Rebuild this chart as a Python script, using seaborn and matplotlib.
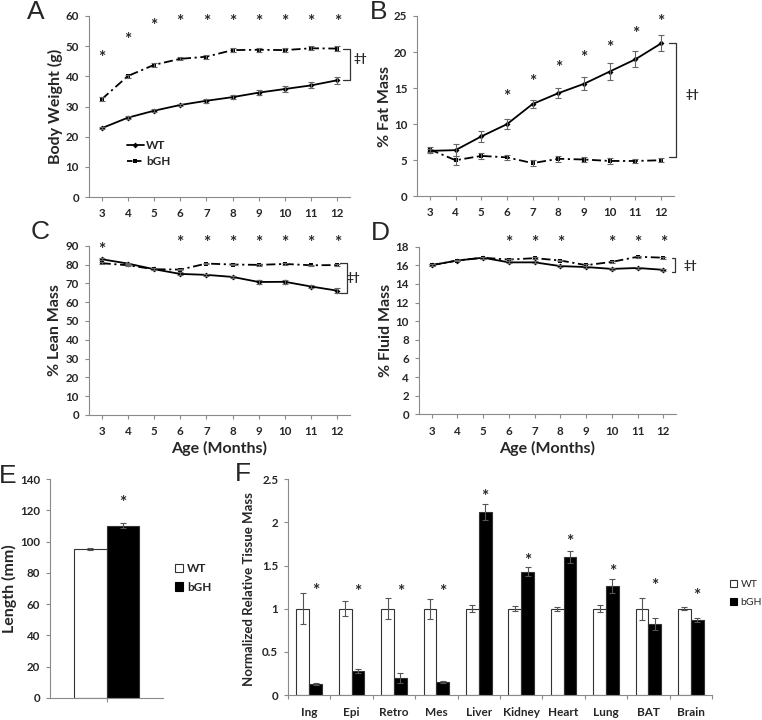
import numpy as np
import pandas as pd
import seaborn as sns
import matplotlib.pyplot as plt
from matplotlib.lines import Line2D
from matplotlib.patches import Patch

# ---- data ----
months = [3, 4, 5, 6, 7, 8, 9, 10, 11, 12]

bw_wt = [22.8, 26.3, 28.6, 30.5, 31.9, 33.1, 34.6, 35.8, 37.0, 38.7]
bw_wt_err = [0.4, 0.4, 0.5, 0.4, 0.6, 0.6, 0.8, 0.9, 1.0, 1.2]
bw_bgh = [32.4, 40.1, 43.8, 45.8, 46.5, 48.7, 48.8, 48.7, 49.3, 49.2]
bw_bgh_err = [0.6, 0.5, 0.6, 0.5, 0.6, 0.7, 0.6, 0.6, 0.6, 0.7]
bw_star_x = [3, 4, 5, 6, 7, 8, 9, 10, 11, 12]
bw_star_y = [46.2, 52.2, 56.7, 58.0, 58.0, 58.0, 58.0, 58.0, 58.0, 58.0]

fat_wt = [6.3, 6.4, 8.3, 10.0, 12.8, 14.3, 15.6, 17.3, 19.0, 21.2]
fat_wt_err = [0.3, 0.8, 0.8, 0.7, 0.6, 0.7, 0.9, 1.2, 1.1, 1.1]
fat_bgh = [6.5, 5.0, 5.6, 5.4, 4.6, 5.2, 5.1, 4.9, 4.9, 5.0]
fat_bgh_err = [0.4, 0.6, 0.4, 0.3, 0.4, 0.4, 0.4, 0.4, 0.3, 0.3]
fat_star_x = [6, 7, 8, 9, 10, 11, 12]
fat_star_y = [13.7, 15.8, 17.8, 19.2, 20.6, 22.5, 24.1]

lean_wt = [82.8, 80.5, 77.5, 75.0, 74.5, 73.4, 70.7, 70.8, 68.3, 66.1]
lean_wt_err = [0.6, 0.5, 0.5, 0.8, 0.6, 0.6, 1.2, 1.0, 1.0, 1.2]
lean_bgh = [80.7, 79.6, 77.5, 77.3, 80.5, 80.0, 79.8, 80.3, 79.6, 79.7]
lean_bgh_err = [0.4, 0.5, 0.4, 0.4, 0.4, 0.4, 0.4, 0.4, 0.4, 0.4]
lean_star_x = [3, 6, 7, 8, 9, 10, 11, 12]
lean_star_y = [87.8, 91.3, 91.3, 91.3, 91.3, 91.3, 91.3, 91.3]

fluid_wt = [16.0, 16.5, 16.8, 16.3, 16.3, 15.9, 15.8, 15.6, 15.7, 15.5]
fluid_wt_err = [0.1, 0.1, 0.1, 0.1, 0.1, 0.1, 0.1, 0.1, 0.1, 0.1]
fluid_bgh = [16.0, 16.5, 16.8, 16.6, 16.75, 16.5, 16.0, 16.35, 16.9, 16.8]
fluid_bgh_err = [0.1, 0.1, 0.1, 0.1, 0.1, 0.1, 0.1, 0.1, 0.1, 0.1]
fluid_star_x = [6, 7, 8, 10, 11, 12]
fluid_star_y = [18.35, 18.35, 18.35, 18.35, 18.35, 18.35]

groups = ['WT', 'bGH']
length_vals = [95.2, 110.2]
length_err = [0.6, 1.5]
length_star = 124.9

tissues = ['Ing', 'Epi', 'Retro', 'Mes', 'Liver', 'Kidney', 'Heart', 'Lung', 'BAT', 'Brain']
tis_wt = [1.0, 1.0, 1.0, 1.0, 1.0, 1.0, 1.0, 1.0, 1.0, 1.0]
tis_wt_err = [0.18, 0.09, 0.12, 0.115, 0.04, 0.03, 0.025, 0.04, 0.13, 0.015]
tis_bgh = [0.13, 0.28, 0.20, 0.15, 2.12, 1.43, 1.60, 1.26, 0.82, 0.87]
tis_bgh_err = [0.01, 0.02, 0.06, 0.015, 0.09, 0.05, 0.07, 0.08, 0.07, 0.02]
tis_star_y = [1.20, 1.19, 1.19, 1.19, 2.29, 1.55, 1.77, 1.43, 1.26, 1.15]

W, H = 762, 720
GREY = '#8a8a8a'

sns.set_style('white')
plt.rcParams['font.family'] = ['Lato', 'DejaVu Sans']
plt.rcParams['font.weight'] = 'bold'

fig = plt.figure(figsize=(W / 100, H / 100), dpi=100)


def px_axes(left, top, right, bottom):
    return fig.add_axes([left / W, 1 - bottom / H, (right - left) / W, (bottom - top) / H])


def style_axes(ax, ylabel, label_x, label_y=0.5, ylsize=11.5):
    for s in ['top', 'right']:
        ax.spines[s].set_visible(False)
    for s in ['left', 'bottom']:
        ax.spines[s].set_color(GREY)
        ax.spines[s].set_linewidth(0.8)
    ax.tick_params(axis='both', labelsize=8.3, color=GREY, length=3, width=0.8,
                   direction='out', left=True, bottom=True)
    ax.tick_params(axis='x', pad=5)
    ax.tick_params(axis='y', pad=4)
    ax.set_ylabel(ylabel, fontsize=ylsize, fontweight='bold')
    ax.yaxis.set_label_coords(label_x, label_y)


def line_panel(ax, wt, wt_err, bgh, bgh_err, ymax, ystep, ylabel, label_x,
               star_x, star_y, bracket, dagger, xlabel=None):
    df = pd.DataFrame({'month': months * 2, 'value': wt + bgh,
                       'group': ['WT'] * len(months) + ['bGH'] * len(months)})
    sns.lineplot(data=df, x='month', y='value', style='group',
                 dashes={'WT': '', 'bGH': (5, 2, 1.2, 2)},
                 markers={'WT': 'D', 'bGH': 's'}, color='black',
                 markersize=3, linewidth=1.3, markeredgewidth=0,
                 ax=ax, legend=False)
    ax.errorbar(months, wt, yerr=wt_err, fmt='none', ecolor='#666666',
                elinewidth=0.8, capsize=2, capthick=0.8)
    ax.errorbar(months, bgh, yerr=bgh_err, fmt='none', ecolor='#666666',
                elinewidth=0.8, capsize=2, capthick=0.8)
    for x, y in zip(star_x, star_y):
        ax.text(x, y, '*', ha='center', va='center', fontsize=12.5, fontweight='bold')
    # significance bracket
    bx0, bx1, by0, by1 = bracket
    ax.plot([bx0, bx1, bx1, bx0], [by0, by0, by1, by1], color='#333333',
            lw=0.9, clip_on=False)
    ax.text(dagger[0], dagger[1], '‡†', ha='center', va='center',
            fontsize=8.5, fontweight='bold', clip_on=False)
    ax.set_xlim(2.5, 12.5)
    ax.set_xticks(months)
    ax.set_ylim(0, ymax)
    ax.set_yticks(np.arange(0, ymax + 0.001, ystep))
    style_axes(ax, ylabel, label_x)
    if xlabel:
        ax.set_xlabel(xlabel, fontsize=11.5, fontweight='bold', labelpad=3)
    else:
        ax.set_xlabel('')


# ---- A: body weight ----
axA = px_axes(88.6, 16, 350.4, 197)
line_panel(axA, bw_wt, bw_wt_err, bw_bgh, bw_bgh_err, 60, 10, 'Body Weight (g)', -0.098,
           bw_star_x, bw_star_y, (12.22, 12.48, 49.2, 38.7), (12.9, 46.0))
leg_handles = [Line2D([], [], color='black', lw=1.3, marker='D', markersize=3, markeredgewidth=0),
               Line2D([], [], color='black', lw=1.3, marker='s', markersize=3, markeredgewidth=0,
                      dashes=(3, 2))]
axA.legend(leg_handles, ['WT', 'bGH'], loc='upper left', bbox_to_anchor=(127 / W, 1 - 140 / H),
           bbox_transform=fig.transFigure, frameon=False, fontsize=8.5, handlelength=1.4,
           handletextpad=0.2, labelspacing=0.45, borderpad=0, borderaxespad=0)

# ---- B: fat mass ----
axB = px_axes(417, 16, 674, 196.3)
line_panel(axB, fat_wt, fat_wt_err, fat_bgh, fat_bgh_err, 25, 5, '% Fat Mass', -0.097,
           fat_star_x, fat_star_y, (12.31, 12.58, 21.2, 5.5), (13.2, 14.1))

# ---- C: lean mass ----
axC = px_axes(88.6, 245.7, 350.4, 415)
line_panel(axC, lean_wt, lean_wt_err, lean_bgh, lean_bgh_err, 90, 10, '% Lean Mass', -0.10,
           lean_star_x, lean_star_y, (12.12, 12.38, 80.7, 64.7), (12.6, 73.0),
           xlabel='Age (Months)')

# ---- D: fluid mass ----
axD = px_axes(418.8, 246.5, 676.2, 414.5)
line_panel(axD, fluid_wt, fluid_wt_err, fluid_bgh, fluid_bgh_err, 18, 2, '% Fluid Mass', -0.10,
           fluid_star_x, fluid_star_y, (12.34, 12.46, 16.8, 15.3), (13.05, 16.0),
           xlabel='Age (Months)')

bar_colors = {'WT': 'white', 'bGH': 'black'}

# ---- E: body length ----
axE = px_axes(50, 479, 163, 698)
df_len = pd.DataFrame({'cat': [''] * 2, 'group': groups, 'value': length_vals})
sns.barplot(data=df_len, x='cat', y='value', hue='group', palette=bar_colors,
            edgecolor='#333333', linewidth=0.8, width=0.58, ax=axE, legend=False)
bars_E = list(axE.containers)
for k, cont in enumerate(bars_E):
    for bar in cont:
        cx = bar.get_x() + bar.get_width() / 2
        axE.errorbar(cx, length_vals[k], yerr=length_err[k], fmt='none',
                     ecolor='#555555', elinewidth=0.8, capsize=2, capthick=0.8)
bgh_bar = bars_E[1][0]
axE.text(bgh_bar.get_x() + bgh_bar.get_width() / 2, length_star, '*', ha='center',
         va='center', fontsize=12.5, fontweight='bold')
axE.set_xlim(-0.5, 0.5)
axE.set_ylim(0, 140)
axE.set_yticks(np.arange(0, 141, 20))
axE.set_xticks([0])
axE.set_xticklabels([''])
axE.set_xlabel('')
style_axes(axE, 'Length (mm)', -0.29)
axE.legend([Patch(facecolor='white', edgecolor='#333333', lw=0.8),
            Patch(facecolor='black', edgecolor='black', lw=0.8)], groups,
           loc='upper left', bbox_to_anchor=(175 / W, 1 - 563 / H), bbox_transform=fig.transFigure,
           frameon=False, fontsize=8.5, handlelength=0.7, handleheight=0.7, handletextpad=0.3,
           labelspacing=0.65, borderpad=0, borderaxespad=0)

# ---- F: tissue mass ----
axF = px_axes(288, 479.3, 712, 695)
df_tis = pd.DataFrame({'tissue': tissues * 2, 'group': ['WT'] * 10 + ['bGH'] * 10,
                       'value': tis_wt + tis_bgh})
sns.barplot(data=df_tis, x='tissue', y='value', hue='group', palette=bar_colors,
            edgecolor='#333333', linewidth=0.8, width=0.6, ax=axF, legend=False)
bars_F = list(axF.containers)
errs = [tis_wt_err, tis_bgh_err]
vals = [tis_wt, tis_bgh]
for k, cont in enumerate(bars_F):
    for i, bar in enumerate(cont):
        cx = bar.get_x() + bar.get_width() / 2
        axF.errorbar(cx, vals[k][i], yerr=errs[k][i], fmt='none', ecolor='#555555',
                     elinewidth=0.8, capsize=2, capthick=0.8)
for i, bar in enumerate(bars_F[1]):
    axF.text(bar.get_x() + bar.get_width() / 2, tis_star_y[i], '*', ha='center',
             va='center', fontsize=12.5, fontweight='bold')
axF.set_xlim(-0.5, 9.5)
axF.set_ylim(0, 2.5)
axF.set_yticks([0, 0.5, 1, 1.5, 2, 2.5])
axF.set_yticklabels(['0', '0.5', '1', '1.5', '2', '2.5'])
axF.set_xlabel('')
style_axes(axF, 'Normalized Relative Tissue Mass', -0.078, 0.49, ylsize=9.5)
axF.set_xticks(np.arange(-0.5, 9.6, 1), minor=False)
axF.set_xticks(range(len(tissues)), minor=True)
axF.set_xticklabels([''] * 11)
axF.set_xticklabels(tissues, minor=True)
axF.tick_params(axis='x', which='minor', length=0, labelsize=8.5, pad=9)
axF.legend([Patch(facecolor='white', edgecolor='#333333', lw=0.8),
            Patch(facecolor='black', edgecolor='black', lw=0.8)], groups,
           loc='upper left', bbox_to_anchor=(730 / W, 1 - 580 / H), bbox_transform=fig.transFigure,
           frameon=False, handlelength=0.7, handleheight=0.7, handletextpad=0.3,
           labelspacing=0.8, borderpad=0, borderaxespad=0,
           prop={'weight': 'normal', 'size': 7.5})

# ---- panel letters ----
for letter, x, y in [('A', 36, 12), ('B', 379, 12), ('C', 40, 232), ('D', 380, 233),
                     ('E', 8, 476), ('F', 243, 474)]:
    fig.text(x / W, 1 - y / H, letter, ha='center', va='center', fontsize=19,
             fontweight='normal', family=['Liberation Sans', 'DejaVu Sans'])

fig.savefig('out.png', dpi=100)
